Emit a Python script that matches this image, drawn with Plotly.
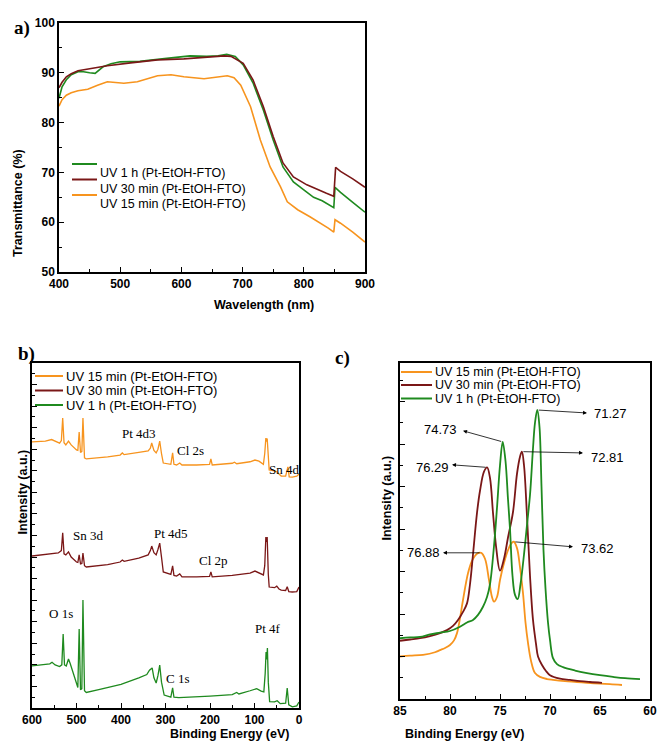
import plotly.graph_objects as go

W, H = 660, 753

GREEN = "#1F8A1F"
MAROON = "#7A1717"
ORANGE = "#F7941E"

SERIES = ["UV 1 h (Pt-EtOH-FTO)", "UV 30 min (Pt-EtOH-FTO)", "UV 15 min (Pt-EtOH-FTO)"]

# ---- a) transmittance spectra ----
wl_1h = [400, 405, 412, 420, 431, 440, 450, 459, 472, 485, 500, 532, 576, 614, 641, 660, 674, 688,
         701, 717, 734, 750, 766, 783, 800, 816, 830, 840, 849, 851, 860, 880, 900]
tr_1h = [84.9, 87.2, 88.6, 89.6, 90.2, 90.2, 90.0, 89.9, 91.2, 91.8, 92.2, 92.3, 92.9, 93.4, 93.3,
         93.4, 93.7, 93.3, 91.6, 88.0, 82.5, 76.5, 71.1, 68.1, 66.5, 65.0, 64.3, 63.6, 62.9, 67.0,
         66.0, 64.0, 62.0]
wl_30 = [400, 405, 412, 420, 431, 452, 479, 517, 561, 604, 637, 670, 681, 701, 717, 734, 750, 766,
         783, 805, 837, 849, 852, 860, 880, 900]
tr_30 = [87.0, 88.1, 89.2, 89.8, 90.4, 90.9, 91.4, 92.0, 92.6, 92.8, 93.1, 93.4, 93.3, 91.9, 88.6,
         83.2, 77.2, 71.9, 69.1, 67.5, 65.8, 65.2, 71.0, 70.2, 68.7, 67.0]
wl_15 = [400, 405, 412, 420, 431, 447, 463, 479, 506, 528, 561, 583, 604, 637, 675, 686, 697, 713,
         729, 745, 762, 773, 790, 810, 840, 849, 851, 860, 880, 900]
tr_15 = [83.3, 84.6, 85.5, 86.0, 86.4, 86.7, 87.5, 88.2, 87.9, 88.2, 89.4, 89.6, 89.2, 88.8, 89.4,
         89.0, 87.5, 83.2, 76.5, 71.1, 67.1, 64.1, 62.5, 61.1, 58.8, 58.0, 60.5, 59.8, 58.0, 56.0]

# ---- b) XPS survey spectra (stacked, a.u.) ----
be_1h = [600, 580, 560, 555, 548, 538, 533, 530, 527, 523, 518, 514, 507, 500, 497, 494, 491, 488,
         485.5, 482, 478, 450, 400, 360, 342, 336, 330, 326, 321, 317, 313, 309, 303, 288, 284, 281,
         270, 200, 150, 140, 135, 110, 100, 95, 85, 79, 76, 74, 72.5, 71, 69, 66, 55, 49, 42, 30,
         26.5, 23, 15, 5, 0]
in_1h = [1.95, 2.0, 2.05, 2.12, 2.0, 1.92, 2.0, 3.43, 2.0, 1.95, 2.27, 2.05, 1.62, 1.2, 0.95, 3.66,
         0.85, 0.9, 5.01, 0.8, 0.72, 0.85, 1.1, 1.4, 1.55, 1.75, 1.86, 1.4, 1.16, 1.5, 1.99, 1.2, 0.6,
         0.5, 0.93, 0.5, 0.48, 0.55, 0.62, 0.72, 0.65, 0.8, 0.88, 0.9, 0.78, 0.75, 1.6, 2.6, 2.25,
         2.78, 1.2, 0.3, 0.28, 0.34, 0.2, 0.22, 0.93, 0.15, 0.05, 0.1, 0.28]
be_30 = [600, 560, 541, 534, 531, 528, 524, 518, 512, 500, 497, 494, 491, 488, 485.5, 482, 478, 430,
         402, 397, 393, 360, 339, 334, 331, 326, 321, 317, 313, 309, 305, 288, 284, 281, 275, 268,
         263, 230, 201, 198, 195, 150, 110, 99, 90, 80, 77, 74.5, 73, 71.5, 69, 67, 55, 50, 45, 40,
         30, 26.5, 23, 15, 5, 0]
in_30 = [7.05, 7.15, 7.19, 7.3, 8.12, 7.15, 7.1, 7.24, 7.0, 6.77, 6.75, 7.10, 6.68, 6.7, 7.19, 6.6,
         6.54, 6.65, 6.77, 6.86, 6.8, 6.95, 7.10, 7.3, 7.51, 7.2, 7.10, 7.35, 7.65, 7.0, 6.31, 6.2,
         6.59, 6.15, 6.12, 6.22, 6.08, 6.08, 6.1, 6.31, 6.08, 6.15, 6.26, 6.35, 6.25, 6.17, 6.6, 7.93,
         7.7, 7.93, 6.2, 5.61, 5.58, 5.65, 5.52, 5.47, 5.45, 5.62, 5.4, 5.38, 5.4, 5.61]
be_15 = [600, 570, 556, 548, 538, 534, 531, 528, 524, 518, 512, 500, 497, 494, 491, 488, 485.5, 482,
         478, 430, 402, 397, 393, 360, 339, 334, 331, 326, 321, 317, 313, 309, 305, 288, 284, 281,
         275, 268, 263, 230, 201, 198, 195, 150, 145, 140, 110, 99, 90, 80, 77, 74.5, 73, 71.5, 69,
         67, 55, 50, 45, 40, 30, 25, 22, 15, 5, 0]
in_15 = [12.34, 12.38, 12.45, 12.36, 12.28, 12.4, 13.45, 12.3, 12.2, 12.38, 12.2, 11.97, 11.95,
         12.80, 11.85, 11.9, 13.45, 11.6, 11.55, 11.65, 11.73, 11.83, 11.75, 11.85, 11.92, 12.05,
         12.29, 11.95, 11.83, 12.0, 12.38, 11.8, 11.36, 11.3, 11.83, 11.3, 11.27, 11.36, 11.27,
         11.27, 11.3, 11.55, 11.27, 11.35, 11.4, 11.33, 11.42, 11.50, 11.45, 11.3, 11.8, 12.52,
         12.35, 12.5, 11.5, 11.04, 11.0, 10.95, 10.85, 10.76, 10.75, 11.18, 10.72, 10.71, 10.75, 10.85]

survey_labels = ["Pt 4d3", "Cl 2s", "Sn 4d", "Sn 3d", "Pt 4d5", "Cl 2p", "O 1s", "Pt 4f", "C 1s"]
survey_label_be = [360, 243, 34, 474, 288, 193, 535, 70, 272]
survey_label_y = [12.75, 11.92, 11.04, 8.02, 8.07, 6.86, 4.36, 3.71, 1.35]

# ---- c) Pt 4f high resolution ----
hr_be_1h = [85, 84, 83, 82, 81, 80, 79, 78.3, 77.7, 77.2, 76.7, 76.3, 76.0, 75.6, 75.3, 75.0, 74.73,
            74.45, 74.2, 74.0, 73.75, 73.5, 73.23, 72.95, 72.6, 72.3, 72.0, 71.7, 71.5, 71.27,
            71.05, 70.85, 70.65, 70.45, 70.2, 70.0, 69.7, 69.3, 68.7, 67.5, 66.3, 65, 63.7, 62.5, 61]
hr_in_1h = [1.43, 1.45, 1.46, 1.52, 1.56, 1.60, 1.70, 1.80, 1.86, 1.98, 2.17, 2.40, 2.70, 3.6, 4.5,
            5.5, 6.05, 5.6, 4.7, 4.0, 2.9, 2.45, 2.35, 2.7, 3.4, 4.1, 4.8, 5.9, 6.5, 6.80, 6.4, 5.0,
            3.5, 2.6, 1.8, 1.39, 0.96, 0.82, 0.75, 0.67, 0.61, 0.56, 0.52, 0.49, 0.47]
hr_be_30 = [85, 84, 83, 82, 81, 80.3, 79.7, 79.2, 78.7, 78.3, 78.0, 77.7, 77.3, 77.0, 76.6, 76.29,
            76.0, 75.7, 75.4, 75.0, 74.6, 74.2, 73.7, 73.3, 73.0, 72.81, 72.6, 72.3, 72.0, 71.7,
            71.4, 71.2, 70.8, 70.4, 70.0, 69, 68, 67, 66, 64.8]
hr_in_30 = [1.37, 1.40, 1.43, 1.48, 1.55, 1.62, 1.72, 1.86, 2.05, 2.25, 2.7, 3.4, 4.38, 4.9, 5.35,
            5.45, 5.2, 4.38, 3.6, 3.02, 3.3, 3.8, 4.4, 5.3, 5.7, 5.82, 5.5, 4.3, 2.9, 1.86, 1.3,
            1.0, 0.8, 0.66, 0.56, 0.48, 0.45, 0.42, 0.40, 0.38]
hr_be_15 = [85, 84, 82.7, 81.5, 81, 80.5, 80, 79.6, 79.3, 79.0, 78.7, 78.2, 77.8, 77.3, 76.88, 76.5,
            76.1, 75.8, 75.6, 75.3, 75.0, 74.6, 74.2, 73.9, 73.62, 73.3, 73.0, 72.7, 72.45, 72.2,
            71.9, 71.5, 71.0, 70.3, 69.7, 68.5, 67.3, 66.3, 65, 64, 62.8]
hr_in_15 = [1.00, 1.02, 1.04, 1.10, 1.15, 1.20, 1.27, 1.38, 1.55, 1.9, 2.33, 2.96, 3.25, 3.42, 3.44,
            3.3, 2.8, 2.4, 2.29, 2.4, 2.8, 3.2, 3.5, 3.65, 3.70, 3.55, 3.1, 2.49, 1.8, 1.32, 0.9,
            0.61, 0.52, 0.47, 0.45, 0.42, 0.40, 0.38, 0.36, 0.35, 0.33]

peak_be = [71.27, 74.73, 72.81, 76.29, 76.88, 73.62]
peak_in = [6.80, 6.05, 5.82, 5.45, 3.44, 3.70]
# where each arrow ends and where its label sits (x, y in data units)
arrow_end = [(66.3, 6.73), (78.7, 6.31), (66.7, 5.79), (79.8, 5.51), (80.7, 3.44), (67.7, 3.58)]
label_pos = [(64.0, 6.71), (81.0, 6.33), (64.3, 5.69), (81.8, 5.44), (82.7, 3.44), (65.3, 3.53)]


def fx(px):
    return px / W


def fy(py):
    return 1 - py / H


SANS = "Liberation Sans"
SERIF = "Liberation Serif"

fig = go.Figure()

fig.add_trace(go.Scatter(x=wl_1h, y=tr_1h, mode="lines", line=dict(color=GREEN, width=1.6),
                         xaxis="x", yaxis="y"))
fig.add_trace(go.Scatter(x=wl_30, y=tr_30, mode="lines", line=dict(color=MAROON, width=1.6),
                         xaxis="x", yaxis="y"))
fig.add_trace(go.Scatter(x=wl_15, y=tr_15, mode="lines", line=dict(color=ORANGE, width=1.6),
                         xaxis="x", yaxis="y"))

fig.add_trace(go.Scatter(x=be_15, y=in_15, mode="lines", line=dict(color=ORANGE, width=1.3),
                         xaxis="x2", yaxis="y2"))
fig.add_trace(go.Scatter(x=be_30, y=in_30, mode="lines", line=dict(color=MAROON, width=1.3),
                         xaxis="x2", yaxis="y2"))
fig.add_trace(go.Scatter(x=be_1h, y=in_1h, mode="lines", line=dict(color=GREEN, width=1.3),
                         xaxis="x2", yaxis="y2"))

fig.add_trace(go.Scatter(x=hr_be_15, y=hr_in_15, mode="lines", line=dict(color=ORANGE, width=1.8, shape="spline"),
                         xaxis="x3", yaxis="y3"))
fig.add_trace(go.Scatter(x=hr_be_30, y=hr_in_30, mode="lines", line=dict(color=MAROON, width=1.8, shape="spline"),
                         xaxis="x3", yaxis="y3"))
fig.add_trace(go.Scatter(x=hr_be_1h, y=hr_in_1h, mode="lines", line=dict(color=GREEN, width=1.8, shape="spline"),
                         xaxis="x3", yaxis="y3"))

tickfont = dict(family=SANS, size=12, color="black", weight="bold")
axis_common = dict(showline=True, linewidth=1.5, linecolor="black", mirror=True, ticks="inside",
                   ticklen=5, tickwidth=1.2, tickcolor="black", showgrid=False, zeroline=False,
                   tickfont=tickfont, automargin=False, ticklabeloverflow="allow")

annotations = []
shapes = []

# axis titles
def title(text, x, y, angle=0):
    annotations.append(dict(text=text, x=fx(x), y=fy(y), xref="paper", yref="paper", showarrow=False,
                            textangle=angle, font=dict(family=SANS, size=12.5, color="black", weight="bold")))


title("Wavelength (nm)", 212, 305)
title("Transmittance (%)", 9, 147, -90)
title("Binding Energy (eV)", 168, 743)
title("Intensity (a.u.)", 13, 537, -90)
title("Binding Energy (eV)", 526, 743)
title("Intensity (a.u.)", 386, 543, -90)

for letter, x, y in [("a)", 12, 15), ("b)", 16, 354), ("c)", 342, 358)]:
    annotations.append(dict(text=letter, x=fx(x), y=fy(y), xref="paper", yref="paper", showarrow=False,
                            font=dict(family=SERIF, size=19, color="black", weight="bold")))


# hand-made legends (tight row spacing as in the figure)
def legend(names, colors, x0, x1, rows, size):
    for name, col, ry in zip(names, colors, rows):
        shapes.append(dict(type="line", xref="paper", yref="paper", x0=fx(x0), x1=fx(x1),
                           y0=fy(ry), y1=fy(ry), line=dict(color=col, width=2)))
        annotations.append(dict(text=name, x=fx(x1 + 1), y=fy(ry), xref="paper", yref="paper",
                                xanchor="left", showarrow=False,
                                font=dict(family=SANS, size=size, color="black")))


legend(SERIES, [GREEN, MAROON, ORANGE], 72, 97, [164, 179.5, 195], 12.5)
legend(SERIES[::-1], [ORANGE, MAROON, GREEN], 35, 63, [376, 390.5, 405], 13)
legend(SERIES[::-1], [ORANGE, MAROON, GREEN], 401, 432, [372, 385, 398.5], 12.5)

for text, xb, yb in zip(survey_labels, survey_label_be, survey_label_y):
    annotations.append(dict(text=text, x=xb, y=yb, xref="x2", yref="y2", showarrow=False,
                            font=dict(family=SERIF, size=13, color="black")))

for be, inten, (ex, ey), (lx, ly) in zip(peak_be, peak_in, arrow_end, label_pos):
    annotations.append(dict(text="", x=ex, y=ey, ax=be, ay=inten, xref="x3", yref="y3",
                            axref="x3", ayref="y3", showarrow=True, arrowhead=2, arrowsize=1,
                            arrowwidth=0.8, arrowcolor="black"))
    annotations.append(dict(text=f"{be:.2f}", x=lx, y=ly, xref="x3", yref="y3", showarrow=False,
                            font=dict(family=SANS, size=13, color="black")))

fig.update_layout(
    width=W, height=H, margin=dict(l=0, r=0, t=0, b=0, pad=0, autoexpand=False),
    paper_bgcolor="white", plot_bgcolor="white", showlegend=False,
    xaxis=dict(axis_common, domain=[fx(59), fx(365)], range=[400, 900], dtick=100, anchor="y",
               minor=dict(dtick=50, ticks="inside", ticklen=3, tickcolor="black")),
    yaxis=dict(axis_common, domain=[fy(272), fy(23)], range=[50, 100], dtick=10, anchor="x",
               minor=dict(dtick=5, ticks="inside", ticklen=3, tickcolor="black")),
    xaxis2=dict(axis_common, domain=[fx(32), fx(299)], range=[600, 0], dtick=100, anchor="y2",
                minor=dict(dtick=50, ticks="inside", ticklen=3, tickcolor="black")),
    yaxis2=dict(axis_common, domain=[fy(708), fy(363)], range=[0, 16], dtick=1, anchor="x2",
                showticklabels=False,
                minor=dict(dtick=0.5, ticks="inside", ticklen=3, tickcolor="black")),
    xaxis3=dict(axis_common, domain=[fx(400), fx(650)], range=[85, 60], dtick=5, anchor="y3",
                minor=dict(dtick=2.5, ticks="inside", ticklen=3, tickcolor="black")),
    yaxis3=dict(axis_common, domain=[fy(699), fy(363)], range=[0, 7.906], dtick=1, anchor="x3",
                showticklabels=False,
                minor=dict(dtick=0.5, ticks="inside", ticklen=3, tickcolor="black")),
    annotations=annotations,
    shapes=shapes,
)

# drop the browser's default page margin so the 660x753 figure fills the window exactly
fig.write_html("out.html", config={"displayModeBar": False},
               post_script="document.body.style.margin='0';")
